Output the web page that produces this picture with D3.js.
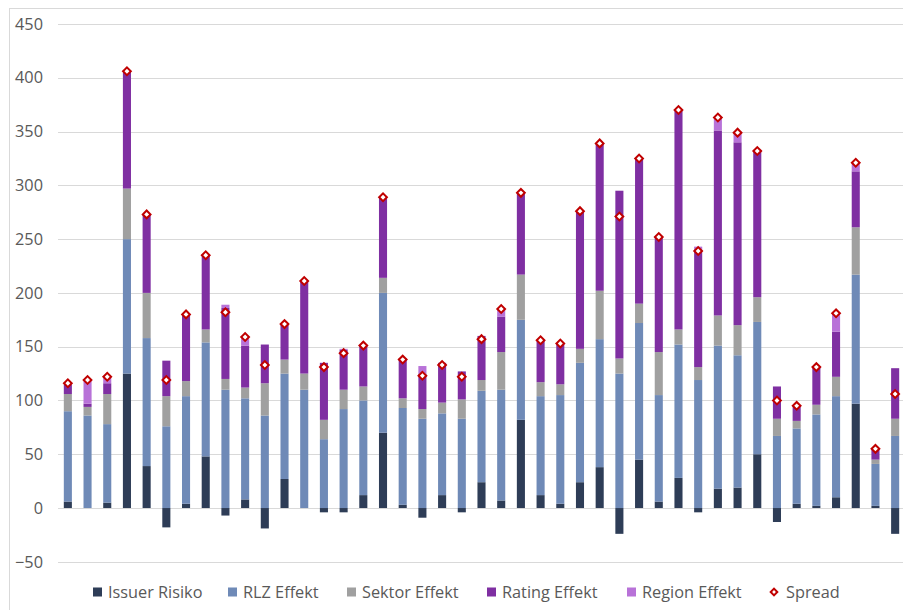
<!DOCTYPE html>
<html>
<head>
<meta charset="utf-8">
<script src="https://cdn.jsdelivr.net/npm/d3@7"></script>
<style>
  html, body { margin: 0; padding: 0; background: #fff; }
  svg { display: block; font-family: "Open Sans", "Noto Sans", sans-serif; }
</style>
</head>
<body>
<svg id="chart" width="903" height="610"></svg>
<script>
// ---- Data ----
const categories = d3.range(1, 44).map(String);
const seriesNames = ["Issuer Risiko", "RLZ Effekt", "Sektor Effekt", "Rating Effekt", "Region Effekt"];
const issuer = [6, 0, 5, 125, 39, -18, 4, 48, -7, 8, -19, 27, 0, -4, -4, 12, 70, 3, -9, 12, -4, 24, 7, 82, 12, 4, 24, 38, -24, 45, 6, 28, -4, 18, 19, 50, -13, 4, 2, 10, 97, 2, -24];
const rlz    = [84, 86, 73, 125, 119, 76, 100, 106, 110, 94, 86, 98, 110, 64, 92, 88, 130, 90, 83, 76, 83, 85, 103, 93, 92, 101, 111, 119, 125, 127, 99, 124, 119, 133, 123, 123, 67, 70, 85, 94, 120, 39, 67];
const sektor = [16, 8, 28, 47, 42, 28, 14, 12, 10, 10, 30, 13, 15, 18, 18, 13, 14, 9, 9, 10, 18, 10, 35, 42, 13, 10, 13, 45, 14, 18, 40, 14, 12, 28, 28, 23, 16, 7, 9, 18, 44, 4, 16];
const rating = [9, 3, 10, 109, 73, 33, 63, 70, 66, 39, 36, 33, 86, 53, 37, 38, 75, 37, 33, 37, 26, 41, 33, 76, 39, 38, 128, 137, 156, 135, 107, 204, 108, 172, 170, 137, 30, 14, 36, 42, 52, 9, 47];
const region = [1, 22, 5, 0, 0, 0, 0, 0, 3, 7, 0, 0, 0, 0, 1, 0, 0, 0, 7, 0, 0, 0, 7, 0, 0, 0, 0, 0, 0, 0, 0, 0, 4, 12, 10, 0, 0, 0, 0, 17, 9, 1, 0];
const spread = [116, 119, 122, 406, 273, 119, 180, 235, 182, 159, 133, 171, 211, 131, 144, 151, 289, 138, 123, 133, 122, 157, 185, 293, 156, 153, 276, 339, 271, 325, 252, 370, 239, 363, 349, 332, 100, 95, 131, 181, 321, 55, 106];
const yTicks = [-50, 0, 50, 100, 150, 200, 250, 300, 350, 400, 450];
const legendLabels = ["Issuer Risiko", "RLZ Effekt", "Sektor Effekt", "Rating Effekt", "Region Effekt", "Spread"];
const colors = ["#2E3D57", "#6F8AB7", "#A0A0A0", "#7F2FA2", "#B872D8"];

// ---- Build table ----
const seriesArrays = [issuer, rlz, sektor, rating, region];
const table = categories.map((c, i) => {
  const row = { cat: c };
  seriesNames.forEach((s, k) => row[s] = seriesArrays[k][i]);
  return row;
});

const svg = d3.select("#chart");
const W = 903, H = 610;
const FONT = "16.3px";

// chart border
svg.append("rect")
  .attr("x", 9.5).attr("y", 8.5)
  .attr("width", W + 10).attr("height", H + 10)
  .attr("fill", "none").attr("stroke", "#d9d9d9").attr("stroke-width", 1);

const x = d3.scaleBand().domain(categories).range([58, 905])
  .paddingInner(0.59).paddingOuter(0.295);
const y = d3.scaleLinear().domain([-50, 450]).range([561.8, 24]);

// gridlines
svg.append("g").selectAll("line").data(yTicks).join("line")
  .attr("x1", 58).attr("x2", 905)
  .attr("y1", d => Math.round(y(d)) + 0.5).attr("y2", d => Math.round(y(d)) + 0.5)
  .attr("stroke", "#d9d9d9").attr("stroke-width", 1);

// y axis labels
const yAxis = d3.axisLeft(y).tickValues(yTicks).tickSize(0).tickPadding(0);
const gy = svg.append("g").attr("transform", "translate(43,0)").call(yAxis);
gy.select(".domain").remove();
gy.selectAll("text")
  .attr("fill", "#595959")
  .style("font-size", FONT)
  .style("font-family", "'Open Sans', 'Noto Sans', sans-serif");

// stacked bars
const stack = d3.stack().keys(seriesNames).offset(d3.stackOffsetDiverging);
const stacked = stack(table);
const gBars = svg.append("g");
stacked.forEach((layer, k) => {
  gBars.append("g").attr("fill", colors[k])
    .selectAll("rect").data(layer).join("rect")
    .attr("x", d => x(d.data.cat))
    .attr("width", x.bandwidth())
    .attr("y", d => y(Math.max(d[0], d[1])))
    .attr("height", d => Math.abs(y(d[0]) - y(d[1])));
});

// spread markers
svg.append("g").selectAll("path").data(spread).join("path")
  .attr("d", d3.symbol().type(d3.symbolSquare).size(30))
  .attr("transform", (d, i) => `translate(${x(categories[i]) + x.bandwidth() / 2},${y(d)}) rotate(45)`)
  .attr("fill", "#fff").attr("stroke", "#C00000").attr("stroke-width", 2);

// legend
const legendX = [93, 228, 347, 487, 627, 769];
const lg = svg.append("g").attr("transform", "translate(0,592)");
legendLabels.forEach((name, k) => {
  const g = lg.append("g").attr("transform", `translate(${legendX[k]},0)`);
  if (k < seriesNames.length) {
    g.append("rect").attr("x", 0).attr("y", -4.5).attr("width", 9).attr("height", 9).attr("fill", colors[k]);
  } else {
    g.append("path")
      .attr("d", d3.symbol().type(d3.symbolSquare).size(22))
      .attr("transform", "translate(5,0) rotate(45)")
      .attr("fill", "#fff").attr("stroke", "#C00000").attr("stroke-width", 2);
  }
  g.append("text").attr("x", k < seriesNames.length ? 15 : 17).attr("y", 6)
    .attr("fill", "#595959").style("font-size", FONT).text(name);
});
</script>
</body>
</html>
